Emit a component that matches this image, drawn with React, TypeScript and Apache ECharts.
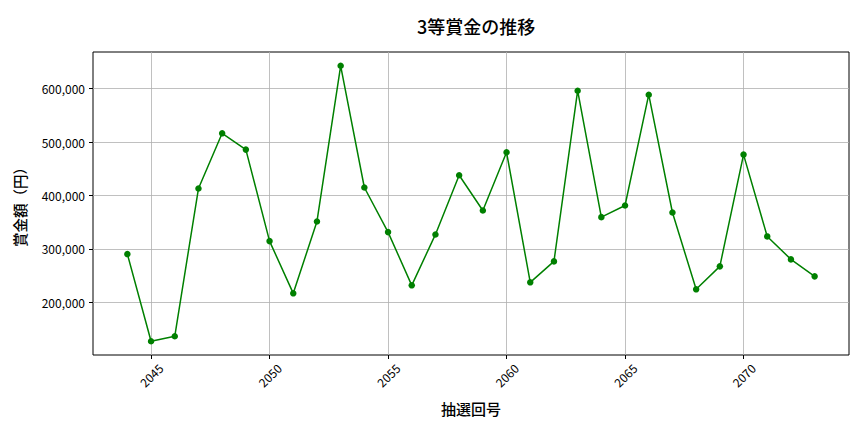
import React, { useEffect, useRef } from "react";
import * as echarts from "echarts";

const draws = [2044, 2045, 2046, 2047, 2048, 2049, 2050, 2051, 2052, 2053, 2054, 2055, 2056, 2057, 2058, 2059, 2060, 2061, 2062, 2063, 2064, 2065, 2066, 2067, 2068, 2069, 2070, 2071, 2072, 2073];
const prizes = [290300, 127100, 136400, 413100, 516500, 486000, 314600, 216800, 351400, 643000, 415000, 331500, 231800, 327100, 438000, 372000, 481000, 237400, 276600, 596300, 359500, 381300, 588800, 368200, 224300, 267300, 476600, 323400, 280400, 248600];
const xTicks = [2045, 2050, 2055, 2060, 2065, 2070];
const yTicks = [200000, 300000, 400000, 500000, 600000];

const FONT = "'Noto Sans CJK JP', 'Noto Sans', sans-serif";

export default function App() {
  const ref = useRef<HTMLDivElement>(null);
  useEffect(() => {
    if (!ref.current) return;
    const chart = echarts.init(ref.current, undefined, { renderer: "svg" });
    const xMin = draws[0] - (draws[draws.length - 1] - draws[0]) * 0.05;
    const xMax = draws[draws.length - 1] + (draws[draws.length - 1] - draws[0]) * 0.05;
    const pMin = Math.min(...prizes);
    const pMax = Math.max(...prizes);
    const yMin = pMin - (pMax - pMin) * 0.05;
    const yMax = pMax + (pMax - pMin) * 0.05;
    chart.setOption({
      animation: false,
      backgroundColor: "#ffffff",
      textStyle: { fontFamily: FONT },
      title: {
        text: "3等賞金の推移",
        left: 471,
        top: 12,
        textAlign: "center",
        textStyle: { fontSize: 18, fontWeight: 500, color: "#000", fontFamily: FONT },
      },
      grid: {
        left: 93,
        right: 15,
        top: 52,
        bottom: 77,
        show: true,
        borderColor: "#000",
        borderWidth: 1,
        backgroundColor: "transparent",
      },
      xAxis: {
        type: "value",
        min: xMin,
        max: xMax,
        name: "抽選回号",
        nameLocation: "middle",
        nameGap: 46,
        nameTextStyle: { fontSize: 15, fontWeight: 500, color: "#000", fontFamily: FONT },
        axisLine: { show: false },
        axisTick: { show: true, customValues: xTicks, length: 4, lineStyle: { color: "#000" } },
        axisLabel: {
          customValues: xTicks,
          rotate: 45,
          align: "center",
          verticalAlign: "middle",
          fontSize: 12,
          color: "#000",
          margin: 20,
          fontFamily: FONT,
          formatter: (v: number) => String(v),
        },
        splitLine: { show: true, lineStyle: { color: "#b0b0b0", width: 0.8 } },
      },
      yAxis: {
        type: "value",
        min: yMin,
        max: yMax,
        name: "賞金額（円）",
        nameLocation: "middle",
        nameGap: 66,
        nameRotate: 90,
        nameTextStyle: { fontSize: 14.5, fontWeight: 500, color: "#000", fontFamily: FONT },
        axisLine: { show: false },
        axisTick: { show: true, customValues: yTicks, length: 4, lineStyle: { color: "#000" } },
        axisLabel: {
          customValues: yTicks,
          fontSize: 12,
          color: "#000",
          margin: 8,
          fontFamily: FONT,
          formatter: (v: number) => v.toLocaleString("en-US"),
        },
        splitLine: { show: true, lineStyle: { color: "#b0b0b0", width: 0.8 } },
      },
      series: [
        {
          type: "line",
          data: draws.map((d, i) => [d, prizes[i]]),
          symbol: "circle",
          symbolSize: 6.5,
          itemStyle: { color: "#008000" },
          lineStyle: { color: "#008000", width: 1.5 },
        },
      ],
    });
    return () => chart.dispose();
  }, []);
  return <div ref={ref} style={{ width: 864, height: 432, marginLeft: -8, marginTop: -8 }} />;
}
